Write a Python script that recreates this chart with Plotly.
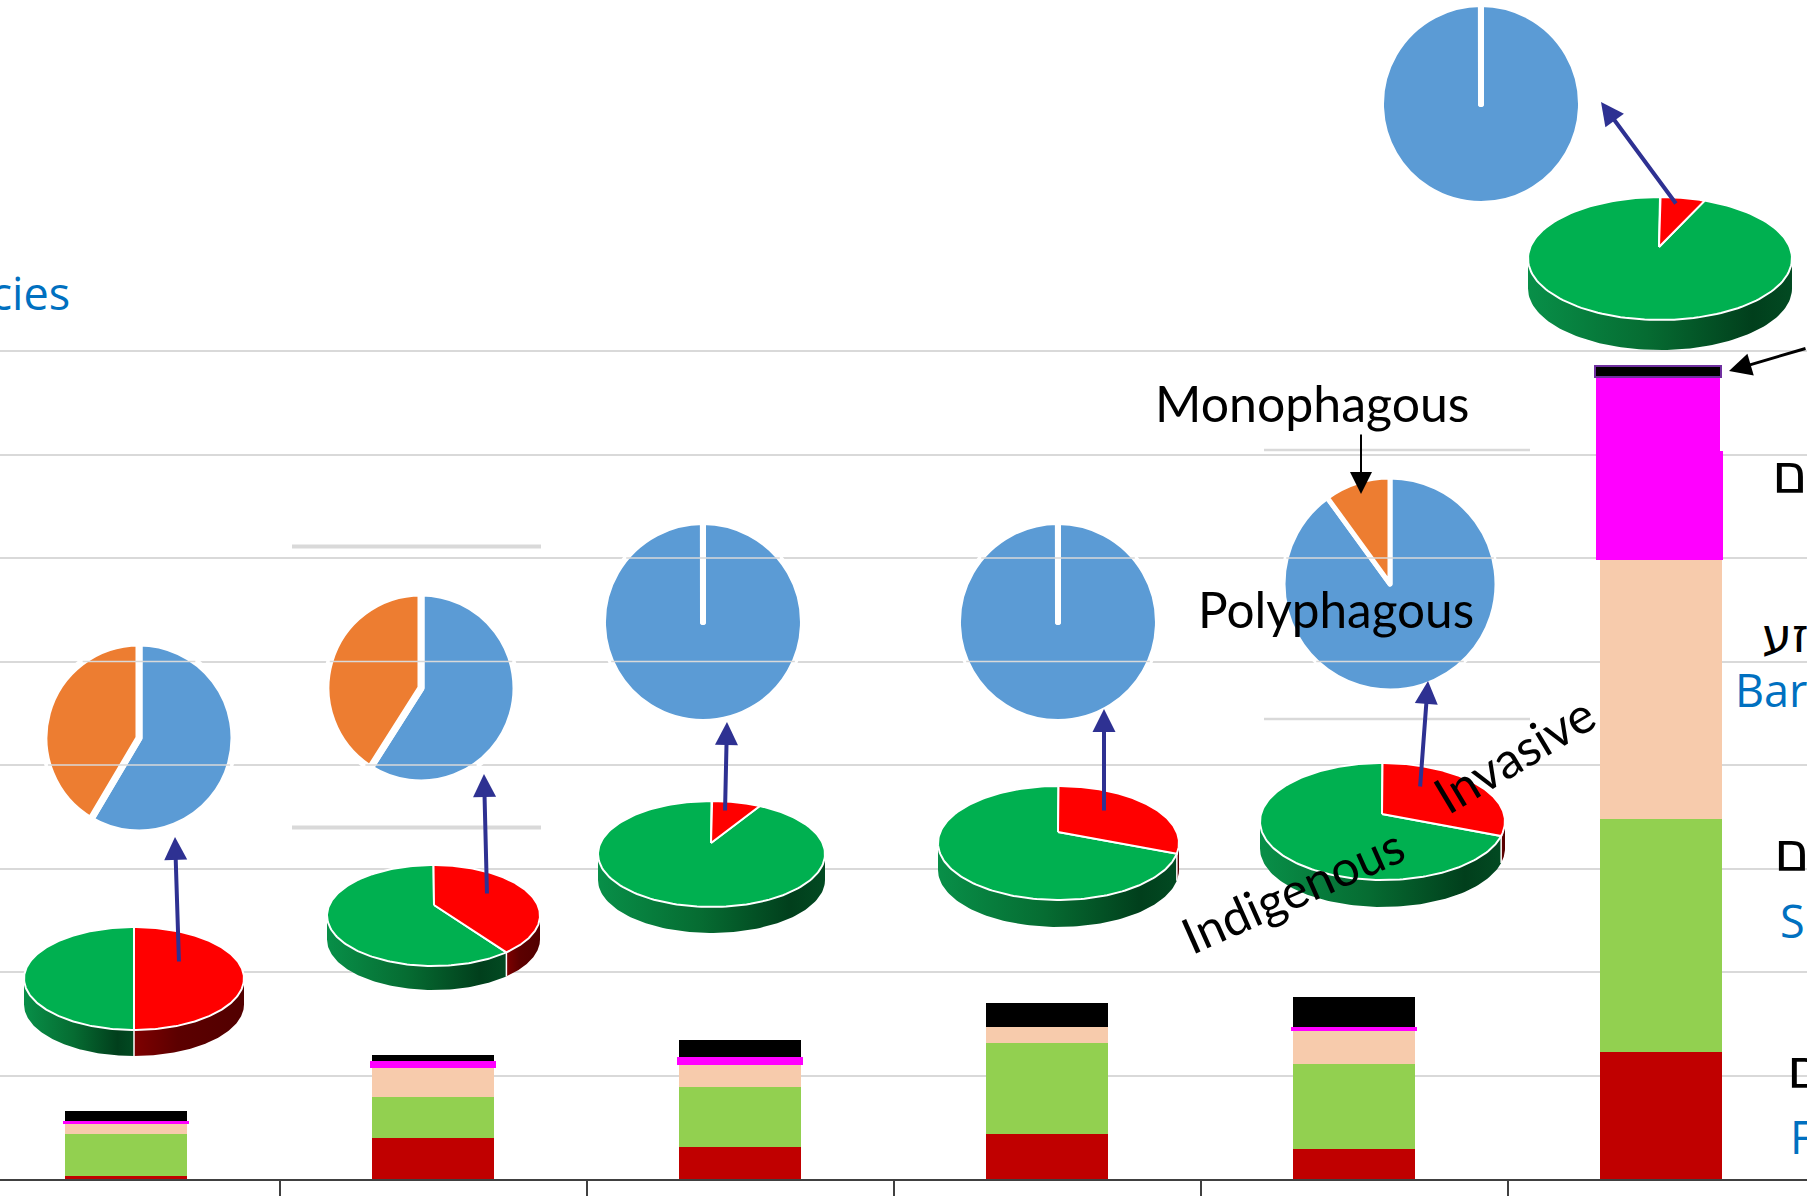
import numpy as np
import plotly.graph_objects as go

WIDTH, HEIGHT = 1807, 1196
AXIS_BOTTOM = 1179          # pixel row of the category axis

# Stacked bar values, one entry per sampling group
red_values = [1.6, 19.8, 15.6, 21.7, 14.5, 61.4]
green_values = [20.1, 19.8, 28.9, 43.9, 41.2, 112.3]
peach_values = [4.7, 13.9, 10.6, 7.8, 16.0, 125.5]
magenta_values = [1.6, 3.4, 3.9, 0.0, 1.8, 52.6]
magenta_upper_values = [0, 0, 0, 0, 0, 35.7]
black_values = [5.0, 3.0, 8.3, 11.5, 14.5, 5.1]
categories = [0, 1, 2, 3, 4, 5]
grid_values = [0, 50, 100, 150, 200, 250, 300, 350, 400]
tick_positions = [0.5, 1.5, 2.5, 3.5, 4.5]

# Share of invasive species in each tilted disc, share of polyphagous in each flat pie
invasive_share = [0.50, 0.38, 0.07, 0.28, 0.29, 0.055]
polyphagous_share = [58.5, 59.0, 99.99, 99.99, 90.0, 99.99]
monophagous_share = [41.5, 41.0, 0.01, 0.01, 10.0, 0.01]

# Placement of the tilted discs: ellipse box, apex of the slices, rim depth
disc_left = [24, 327, 598, 938, 1260, 1528]
disc_right = [244, 540, 825, 1179, 1505, 1792]
disc_top = [927, 865, 801, 786, 763, 197]
disc_bottom = [1030, 966, 907, 900, 880, 320]
disc_apex_x = [134, 434, 711, 1058, 1382, 1659]
disc_apex_y = [978, 905, 843, 832, 814, 247]
disc_depth = [26, 24, 26, 27, 27, 30]

# Placement of the flat pies
pie_cx = [139, 421, 703, 1058, 1390, 1481]
pie_cy = [738, 688, 622, 622, 584, 104]
pie_r = [95, 95, 100, 100, 107, 100]
pie_gap = [7, 7, 6, 6, 5, 6]

# Arrows: tail x, tail y, tip x, tip y
blue_arrows = [
    (179, 963, 175, 837),
    (487, 895, 484, 774),
    (725, 812, 727, 722),
    (1104, 812, 1104, 709),
    (1420, 788, 1428, 681),
    (1677, 205, 1601, 102),
]
black_arrows = [
    (1361, 433, 1361, 494, 2),
    (1807, 348, 1729, 371, 3),
]

# Short grey rules left around the second and fifth pies: x0, x1, y, thickness
loose_rules = [
    (292, 541, 546.5, 4),
    (292, 541, 827.5, 4),
    (1264, 1530, 450, 2.5),
    (1264, 1530, 719, 2.5),
]

BAR_CENTRE_0 = 126
BAR_STEP = 307
UNIT_PX = 2.07

RED = "#C00000"
LIGHT_GREEN = "#92D050"
PEACH = "#F7CBAC"
MAGENTA = "#FF00FF"
GRID = "#D9D9D9"
ARROW_BLUE = "#2E3192"
TEXT_BLUE = "#0070C0"


def px_to_cat(px):
    return (px - BAR_CENTRE_0) / BAR_STEP


fig = go.Figure()

# Stacked bars on the value axis
bar_width = 0.4
fig.add_bar(x=categories, y=red_values, width=bar_width, marker=dict(color=RED, line_width=0))
fig.add_bar(x=categories, y=green_values, width=bar_width, marker=dict(color=LIGHT_GREEN, line_width=0))
fig.add_bar(x=categories, y=peach_values, width=bar_width, marker=dict(color=PEACH, line_width=0))
last = px_to_cat(1596) - 5
fig.add_bar(
    x=categories, y=magenta_values,
    width=[0.41] * 5 + [127 / BAR_STEP],
    offset=[-0.205] * 5 + [last],
    marker=dict(color=MAGENTA, line_width=0),
)
fig.add_bar(
    x=categories, y=magenta_upper_values,
    width=[0.4] * 5 + [124 / BAR_STEP],
    offset=[-0.2] * 5 + [last],
    marker=dict(color=MAGENTA, line_width=0),
)
fig.add_bar(
    x=categories, y=black_values,
    width=[0.4] * 5 + [126 / BAR_STEP],
    offset=[-0.2] * 5 + [px_to_cat(1595) - 5],
    marker=dict(
        color="#000000",
        line=dict(color=["#000000"] * 5 + ["#7030A0"], width=[0] * 5 + [2]),
    ),
)


def arc(cx, cy, rx, ry, t0, t1, n=90):
    t = np.linspace(t0, t1, n)
    return cx + rx * np.sin(t), cy - ry * np.cos(t)


# Tilted discs: rim first, then the two slices on top
for i, share in enumerate(invasive_share):
    cx = (disc_left[i] + disc_right[i]) / 2
    cy = (disc_top[i] + disc_bottom[i]) / 2
    rx = (disc_right[i] - disc_left[i]) / 2
    ry = (disc_bottom[i] - disc_top[i]) / 2
    depth = disc_depth[i]
    t_end = 2 * np.pi * share
    ax_, ay_ = disc_apex_x[i], disc_apex_y[i]

    front_start, front_end = np.pi / 2, 3 * np.pi / 2
    red_rim = (front_start, min(t_end, front_end)) if t_end > front_start else None
    green_rim = (max(t_end, front_start), front_end)

    def rim(t0, t1, scale):
        xs, ys = arc(cx, cy, rx, ry, t0, t1)
        fig.add_scatter(
            x=np.r_[xs, xs[::-1], xs[0]],
            y=np.r_[ys, ys[::-1] + depth, ys[0]],
            xaxis="x2", yaxis="y2", mode="lines", line=dict(width=0),
            fill="toself",
            fillgradient=dict(type="horizontal", colorscale=scale),
            hoverinfo="skip", showlegend=False,
        )

    rim(*green_rim, [[0, "#088F48"], [0.45, "#066C32"], [0.85, "#013F1C"], [1, "#024A22"]])
    if red_rim:
        rim(*red_rim, [[0, "#7E0000"], [0.4, "#5C0000"], [1, "#520000"]])
        xs, ys = arc(cx, cy, rx, ry, t_end, t_end, 1)
        fig.add_scatter(
            x=[xs[0], xs[0]], y=[ys[0], ys[0] + depth],
            xaxis="x2", yaxis="y2", mode="lines", line=dict(color="white", width=1.5),
            hoverinfo="skip", showlegend=False,
        )

    for t0, t1, colour in ((t_end, 2 * np.pi, "#00B050"), (0, t_end, "#FF0000")):
        xs, ys = arc(cx, cy, rx, ry, t0, t1, 160)
        fig.add_scatter(
            x=np.r_[ax_, xs, ax_], y=np.r_[ay_, ys, ay_],
            xaxis="x2", yaxis="y2", mode="lines",
            line=dict(color="white", width=2), fill="toself", fillcolor=colour,
            hoverinfo="skip", showlegend=False,
        )

# Flat feeding-guild pies
for i in range(6):
    cx, cy, r = pie_cx[i], pie_cy[i], pie_r[i]
    fig.add_pie(
        values=[polyphagous_share[i], monophagous_share[i]],
        labels=["Polyphagous", "Monophagous"],
        sort=False, direction="clockwise", rotation=0,
        marker=dict(colors=["#5B9BD5", "#ED7D31"], line=dict(color="white", width=pie_gap[i])),
        textinfo="none", hoverinfo="skip", showlegend=False,
        domain=dict(
            x=[(cx - r) / WIDTH, (cx + r) / WIDTH],
            y=[1 - (cy + r) / AXIS_BOTTOM, 1 - (cy - r) / AXIS_BOTTOM],
        ),
    )

# Gridlines continue across the flat pies
shapes = []
for i in range(6):
    for g in grid_values:
        row = AXIS_BOTTOM - g * UNIT_PX
        if pie_cy[i] - pie_r[i] < row < pie_cy[i] + pie_r[i]:
            half = np.sqrt(pie_r[i] ** 2 - (row - pie_cy[i]) ** 2)
            shapes.append(dict(
                type="line", layer="above", xref="x2", yref="y",
                x0=pie_cx[i] - half, x1=pie_cx[i] + half, y0=g, y1=g,
                line=dict(color=GRID, width=1.5),
            ))

# Loose grey rules
for x0, x1, y, w in loose_rules:
    fig.add_scatter(
        x=[x0, x1], y=[y, y], xaxis="x2", yaxis="y2", mode="lines",
        line=dict(color=GRID, width=w), hoverinfo="skip", showlegend=False,
    )

annotations = []
for x0, y0, x1, y1 in blue_arrows:
    annotations.append(dict(
        x=x1, y=y1, ax=x0, ay=y0, xref="x2", yref="y2", axref="x2", ayref="y2",
        text="", showarrow=True, arrowhead=2, arrowsize=1.15, arrowwidth=4,
        arrowcolor=ARROW_BLUE, standoff=0,
    ))
for x0, y0, x1, y1, w in black_arrows:
    annotations.append(dict(
        x=x1, y=y1, ax=x0, ay=y0, xref="x2", yref="y2", axref="x2", ayref="y2",
        text="", showarrow=True, arrowhead=2, arrowsize=1.5 if w == 3 else 2.2, arrowwidth=w,
        arrowcolor="#000000", standoff=0,
    ))


def label(text, x, y, font, size, colour="#000000", angle=0, anchor="center"):
    annotations.append(dict(
        x=x, y=y, xref="x2", yref="y2", text=text, showarrow=False,
        font=dict(family=font, size=size, color=colour),
        textangle=angle, xanchor=anchor, yanchor="middle",
    ))


label("Monophagous", 1312, 403, "Lato", 50)
label("Polyphagous", 1336, 609, "Lato", 49.5)
label("Indigenous", 1292, 890, "Lato", 49.5, angle=-24)
label("Invasive", 1514, 754, "Lato", 50, angle=-31)

label("Species", 72, 292, "Open Sans", 45, TEXT_BLUE, anchor="right")
label("Bar", 1733, 689, "Open Sans", 45, TEXT_BLUE, anchor="left")
label("S", 1778, 920, "Open Sans", 45, TEXT_BLUE, anchor="left")
label("F", 1788, 1136, "Open Sans", 45, TEXT_BLUE, anchor="left")

label("ים", 1770, 474, "DejaVu Sans", 54, anchor="left")
label("זע", 1760, 635, "DejaVu Sans", 48, anchor="left")
label("ים", 1772, 852, "DejaVu Sans", 54, anchor="left")
label("ים", 1785, 1069, "DejaVu Sans", 54, anchor="left")

fig.update_layout(
    width=WIDTH, height=HEIGHT,
    margin=dict(l=0, r=0, t=0, b=HEIGHT - AXIS_BOTTOM, pad=0),
    paper_bgcolor="white", plot_bgcolor="white",
    barmode="stack", showlegend=False,
    shapes=shapes, annotations=annotations,
    xaxis=dict(
        range=[px_to_cat(0), px_to_cat(WIDTH)], tickmode="array", tickvals=tick_positions,
        showticklabels=False, ticks="outside", ticklen=16, tickwidth=1.5, tickcolor="#404040",
        showgrid=False, zeroline=False, showline=True, linecolor="#404040", linewidth=1.5,
    ),
    yaxis=dict(
        range=[0, AXIS_BOTTOM / UNIT_PX], tickmode="array", tickvals=grid_values,
        showticklabels=False, ticks="", showgrid=True, gridcolor=GRID, gridwidth=1.5,
        zeroline=False, showline=False,
    ),
    xaxis2=dict(range=[0, WIDTH], overlaying="x", visible=False, anchor="y2"),
    yaxis2=dict(range=[AXIS_BOTTOM, 0], overlaying="y", visible=False, anchor="x2"),
)

fig.write_html("out.html", config=dict(displayModeBar=False))
